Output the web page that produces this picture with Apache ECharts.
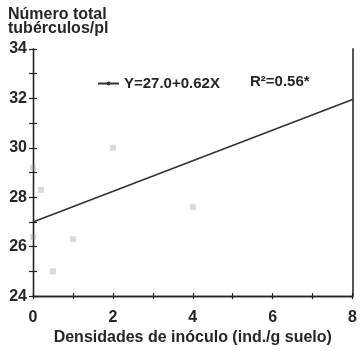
<!DOCTYPE html>
<html><head><meta charset="utf-8">
<script src="https://cdn.jsdelivr.net/npm/echarts@6/dist/echarts.min.js"></script>
<style>html,body{margin:0;padding:0;background:#fff}#c{width:360px;height:351px}</style>
</head><body><div id="c"></div>
<script>
// observed points (density, tuber number)
var densities = [0, 0.2, 0, 0.5, 1, 2, 4];
var tubers = [29.2, 28.3, 26.4, 25.0, 26.3, 30.0, 27.6];
// regression Y = a + bX
var intercept = 27.0, slope = 0.62;
var fitX = [0, 8];
var xTicks = [0, 2, 4, 6, 8];
var yTicks = [24, 26, 28, 30, 32, 34];
var fitLabel = 'Y=27.0+0.62X';
var r2Label = 'R\u00b2=0.56*';
var yTitle = 'Número total\ntubérculos/pl';
var xTitle = 'Densidades de inóculo (ind./g suelo)';

var txt = '#262626', ax = '#222';
var FONT = 'Liberation Sans';
var pts = densities.map(function(x,i){return [x, tubers[i]];});
var fit = fitX.map(function(x){return [x, intercept + slope*x];});

function xAx(inside, labels){
  return {type:'value', min:0, max:8, interval:1, position:'bottom',
    axisLine:{show:true, lineStyle:{color:ax, width:1.3}},
    axisTick:{show:true, inside:inside, length:3, lineStyle:{color:ax, width:1.2}},
    splitLine:{show:false},
    axisLabel:{show:labels, margin:13, color:txt, fontFamily:FONT, fontWeight:'bold', fontSize:16,
      formatter:function(v){return xTicks.indexOf(v)>=0 ? String(v) : '';}},
    name: labels ? xTitle : '', nameLocation:'middle', nameGap:32,
    nameTextStyle:{color:txt, fontFamily:FONT, fontWeight:'bold', fontSize:16}
  };
}
function yAx(inside, labels){
  return {type:'value', min:24, max:34, interval:1, position:'left',
    axisLine:{show:true, lineStyle:{color:ax, width:1.3}},
    axisTick:{show:true, inside:inside, length:4, lineStyle:{color:ax, width:1.2}},
    splitLine:{show:false},
    axisLabel:{show:labels, margin:6, color:txt, fontFamily:FONT, fontWeight:'bold', fontSize:16,
      formatter:function(v){return yTicks.indexOf(v)>=0 ? String(v) : '';}}
  };
}

var chart = echarts.init(document.getElementById('c'));
chart.setOption({
  animation:false,
  grid:{left:33, right:5, top:49, bottom:54, containLabel:false},
  title:{text:yTitle, left:3, top:3, textStyle:{color:txt, fontFamily:FONT, fontWeight:'bold', fontSize:16, lineHeight:14}},
  legend:{left:92, top:71, itemWidth:21, itemHeight:5, data:[fitLabel],
    textStyle:{color:txt, fontFamily:FONT, fontWeight:'bold', fontSize:15}},
  graphic:[{type:'text', left:250, top:74, style:{text:r2Label, fill:txt, font:'bold 15px "Liberation Sans"'}}],
  xAxis:[xAx(false, true), xAx(true, false)],
  yAxis:[yAx(false, true), yAx(true, false),
    {type:'value', min:24, max:34, position:'right', axisLine:{show:true, lineStyle:{color:'#555', width:2}},
     axisTick:{show:false}, axisLabel:{show:false}, splitLine:{show:false}}],
  series:[
    {type:'scatter', name:'obs', data:pts, symbol:'rect', symbolSize:6,
     itemStyle:{color:'rgba(140,140,140,0.4)'}},
    {type:'line', name:fitLabel, data:fit, symbol:'circle', symbolSize:3, showSymbol:false,
     lineStyle:{color:'#333', width:1.6}, itemStyle:{color:'#333'}}
  ]
});
</script></body></html>
